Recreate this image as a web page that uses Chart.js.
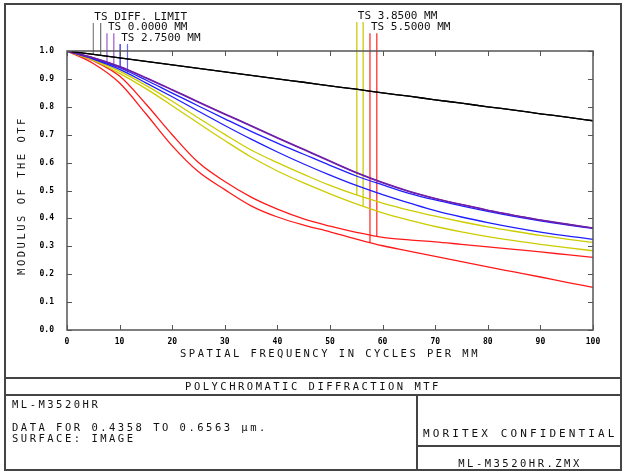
<!DOCTYPE html>
<html>
<head>
<meta charset="utf-8">
<script src="https://cdn.jsdelivr.net/npm/chart.js@4"></script>
<style>
    body { margin: 0; background: #fff; }
    #wrap { position: relative; width: 623px; height: 473px; overflow: hidden; }
    #mtf { position: absolute; left: 0; top: 0; }
    .ln { position: absolute; background: #444; }
    .txt {
        position: absolute;
        font-family: "DejaVu Sans Mono", monospace;
        font-size: 10.5px;
        letter-spacing: 2.5px;
        color: #111;
        line-height: 12px;
        white-space: pre;
    }
</style>
</head>
<body>
<div id="wrap">
    <canvas id="mtf" width="623" height="473"></canvas>

    <!-- cadre et cartouche -->
    <div class="ln" style="left:5px;top:3px;width:617px;height:2px"></div>
    <div class="ln" style="left:5px;top:469px;width:617px;height:2px"></div>
    <div class="ln" style="left:4px;top:3px;width:2px;height:468px"></div>
    <div class="ln" style="left:620px;top:3px;width:2px;height:468px"></div>
    <div class="ln" style="left:5px;top:377px;width:617px;height:2px"></div>
    <div class="ln" style="left:5px;top:394px;width:617px;height:2px"></div>
    <div class="ln" style="left:416px;top:394px;width:2px;height:76px"></div>
    <div class="ln" style="left:417px;top:445px;width:204px;height:2px"></div>

    <div class="txt" style="left:5px;width:616px;top:380px;text-align:center">POLYCHROMATIC DIFFRACTION MTF</div>
    <div class="txt" style="left:12px;top:398px">ML-M3520HR</div>
    <div class="txt" style="left:12px;top:421px">DATA FOR 0.4358 TO 0.6563 µm.</div>
    <div class="txt" style="left:12px;top:432px">SURFACE: IMAGE</div>
    <div class="txt" style="left:423px;top:428px;font-size:11px;letter-spacing:3.1px">MORITEX CONFIDENTIAL</div>
    <div class="txt" style="left:418px;width:204px;top:457px;text-align:center">ML-M3520HR.ZMX</div>
</div>

<script>
const ctxMtf = document.getElementById('mtf');

// frequences (cycles/mm)
const freq = [0, 5, 10, 15, 20, 25, 30, 35, 40, 45, 50, 55, 60, 65, 70, 75, 80, 85, 90, 95, 100];

// limite de diffraction (T et S)
const diffT = [1.000, 0.988, 0.975, 0.963, 0.950, 0.938, 0.925, 0.913, 0.900, 0.888, 0.875, 0.863, 0.850, 0.838, 0.825, 0.813, 0.800, 0.788, 0.775, 0.763, 0.750];
const diffS = [1.000, 0.988, 0.975, 0.963, 0.950, 0.938, 0.925, 0.913, 0.900, 0.888, 0.875, 0.863, 0.850, 0.838, 0.825, 0.813, 0.800, 0.788, 0.775, 0.763, 0.750];

// champ 0.0000 mm
const f0T = [1.000, 0.976, 0.945, 0.905, 0.862, 0.818, 0.775, 0.733, 0.690, 0.648, 0.606, 0.565, 0.529, 0.498, 0.472, 0.450, 0.430, 0.411, 0.395, 0.380, 0.366];
const f0S = [1.000, 0.975, 0.943, 0.903, 0.860, 0.816, 0.773, 0.731, 0.688, 0.646, 0.604, 0.563, 0.527, 0.496, 0.471, 0.449, 0.429, 0.411, 0.394, 0.379, 0.365];

// champ 2.7500 mm
const f1T = [1.000, 0.973, 0.940, 0.896, 0.849, 0.803, 0.757, 0.712, 0.670, 0.630, 0.590, 0.552, 0.520, 0.490, 0.466, 0.445, 0.425, 0.407, 0.391, 0.377, 0.364];
const f1S = [1.000, 0.971, 0.934, 0.886, 0.836, 0.784, 0.733, 0.684, 0.638, 0.595, 0.555, 0.518, 0.485, 0.456, 0.428, 0.405, 0.385, 0.367, 0.351, 0.337, 0.325];

// champ 3.8500 mm
const f2T = [1.000, 0.969, 0.928, 0.877, 0.820, 0.760, 0.701, 0.645, 0.600, 0.558, 0.518, 0.484, 0.455, 0.430, 0.408, 0.388, 0.370, 0.354, 0.339, 0.326, 0.314];
const f2S = [1.000, 0.966, 0.920, 0.865, 0.804, 0.741, 0.679, 0.620, 0.570, 0.527, 0.488, 0.452, 0.420, 0.394, 0.371, 0.352, 0.335, 0.320, 0.307, 0.295, 0.284];

// champ 5.5000 mm
const f3T = [1.000, 0.955, 0.885, 0.775, 0.660, 0.567, 0.503, 0.445, 0.405, 0.376, 0.352, 0.326, 0.302, 0.283, 0.264, 0.245, 0.226, 0.208, 0.190, 0.171, 0.153];
const f3S = [1.000, 0.965, 0.910, 0.810, 0.700, 0.600, 0.532, 0.476, 0.433, 0.398, 0.372, 0.350, 0.332, 0.323, 0.316, 0.307, 0.298, 0.289, 0.280, 0.270, 0.260];

// traits de repere des legendes
const leaderX      = [5.0, 6.4, 7.6, 8.9, 10.1, 11.5, 55.1, 56.3, 57.6, 58.9];
const leaderBottom = [0.988, 0.984, 0.962, 0.951, 0.940, 0.922, 0.484, 0.444, 0.312, 0.336];
const leaderTop    = [1.100, 1.100, 1.064, 1.064, 1.025, 1.025, 1.104, 1.104, 1.064, 1.064];
const leaderColors = ['#808080', '#707070', '#9a5cc8', '#9a5cc8', '#2020e0', '#6868ff', '#c8c800', '#c8c800', '#ff2020', '#ff2020'];

const legendLabels = ['TS DIFF. LIMIT', 'TS 0.0000 MM', 'TS 2.7500 MM', 'TS 3.8500 MM', 'TS 5.5000 MM'];
const legendLeader = [0, 2, 4, 6, 8];

const yTitle = 'MODULUS OF THE OTF';
const xTitle = 'SPATIAL FREQUENCY IN CYCLES PER MM';

function pts(vals) {
    return freq.map((f, i) => ({ x: f, y: vals[i] }));
}

function curve(vals, color) {
    return {
        data: pts(vals),
        borderColor: color,
        backgroundColor: color,
        borderWidth: 1.3,
        pointRadius: 0,
        cubicInterpolationMode: 'monotone',
        fill: false
    };
}

const datasets = [
    curve(diffT, '#000000'),
    curve(diffS, '#000000'),
    curve(f0T, '#6f1fa8'),
    curve(f0S, '#6f1fa8'),
    curve(f1T, '#1e1eff'),
    curve(f1S, '#1e1eff'),
    curve(f2T, '#cccc00'),
    curve(f2S, '#cccc00'),
    curve(f3T, '#ff1a1a'),
    curve(f3S, '#ff1a1a')
];

leaderX.forEach((x, i) => {
    datasets.push({
        data: [{ x: x, y: leaderBottom[i] }, { x: x, y: leaderTop[i] }],
        borderColor: leaderColors[i],
        borderWidth: 1.2,
        pointRadius: 0,
        clip: false
    });
});

// cadre, graduations interieures et textes
const zemaxFrame = {
    id: 'zemaxFrame',
    afterDatasetsDraw(chart) {
        const c = chart.ctx;
        const a = chart.chartArea;
        const xs = chart.scales.x;
        const ys = chart.scales.y;
        c.save();
        c.strokeStyle = '#555';
        c.lineWidth = 1.5;
        c.strokeRect(a.left, a.top, a.right - a.left, a.bottom - a.top);
        c.lineWidth = 1;
        c.beginPath();
        ys.ticks.forEach(t => {
            const py = Math.round(ys.getPixelForValue(t.value)) + 0.5;
            c.moveTo(a.left, py); c.lineTo(a.left + 5, py);
            c.moveTo(a.right, py); c.lineTo(a.right - 5, py);
        });
        xs.ticks.forEach(t => {
            const px = Math.round(xs.getPixelForValue(t.value)) + 0.5;
            c.moveTo(px, a.bottom); c.lineTo(px, a.bottom - 5);
            c.moveTo(px, a.top); c.lineTo(px, a.top + 5);
        });
        c.stroke();

        // legendes des courbes
        c.fillStyle = '#111';
        c.font = '11px "DejaVu Sans Mono"';
        c.textBaseline = 'alphabetic';
        c.textAlign = 'left';
        legendLabels.forEach((lbl, i) => {
            const k = legendLeader[i];
            const px = xs.getPixelForValue(leaderX[k]);
            const py = ys.getPixelForValue(leaderTop[k]);
            c.fillText(lbl, px + 1, py - 3);
        });

        // titres des axes
        c.font = '10.5px "DejaVu Sans Mono"';
        c.letterSpacing = '2.5px';
        c.textAlign = 'center';
        c.textBaseline = 'middle';
        c.fillText(xTitle, (a.left + a.right) / 2, a.bottom + 24);
        c.translate(22, (a.top + a.bottom) / 2 + 5);
        c.rotate(-Math.PI / 2);
        c.fillText(yTitle, 0, 0);
        c.restore();
    }
};

var chartMtf = new Chart(ctxMtf, {
    type: 'line',
    data: { datasets: datasets },
    options: {
        responsive: false,
        maintainAspectRatio: false,
        animation: false,
        layout: {
            padding: { left: 0, right: 30, top: 51, bottom: 0 }
        },
        scales: {
            x: {
                type: 'linear',
                min: 0,
                max: 100,
                afterFit: s => { s.height = 143; },
                grid: { display: false, drawTicks: false },
                border: { display: false },
                ticks: {
                    stepSize: 10,
                    padding: 7,
                    color: '#000',
                    font: { family: '"DejaVu Sans Mono"', size: 8, weight: 'bold' }
                }
            },
            y: {
                min: 0,
                max: 1,
                afterFit: s => { s.width = 67; },
                grid: { display: false, drawTicks: false },
                border: { display: false },
                ticks: {
                    stepSize: 0.1,
                    padding: 13,
                    color: '#000',
                    font: { family: '"DejaVu Sans Mono"', size: 8, weight: 'bold' },
                    callback: v => v.toFixed(1)
                }
            }
        },
        plugins: {
            legend: { display: false },
            tooltip: { enabled: false }
        }
    },
    plugins: [zemaxFrame]
});
</script>
</body>
</html>
